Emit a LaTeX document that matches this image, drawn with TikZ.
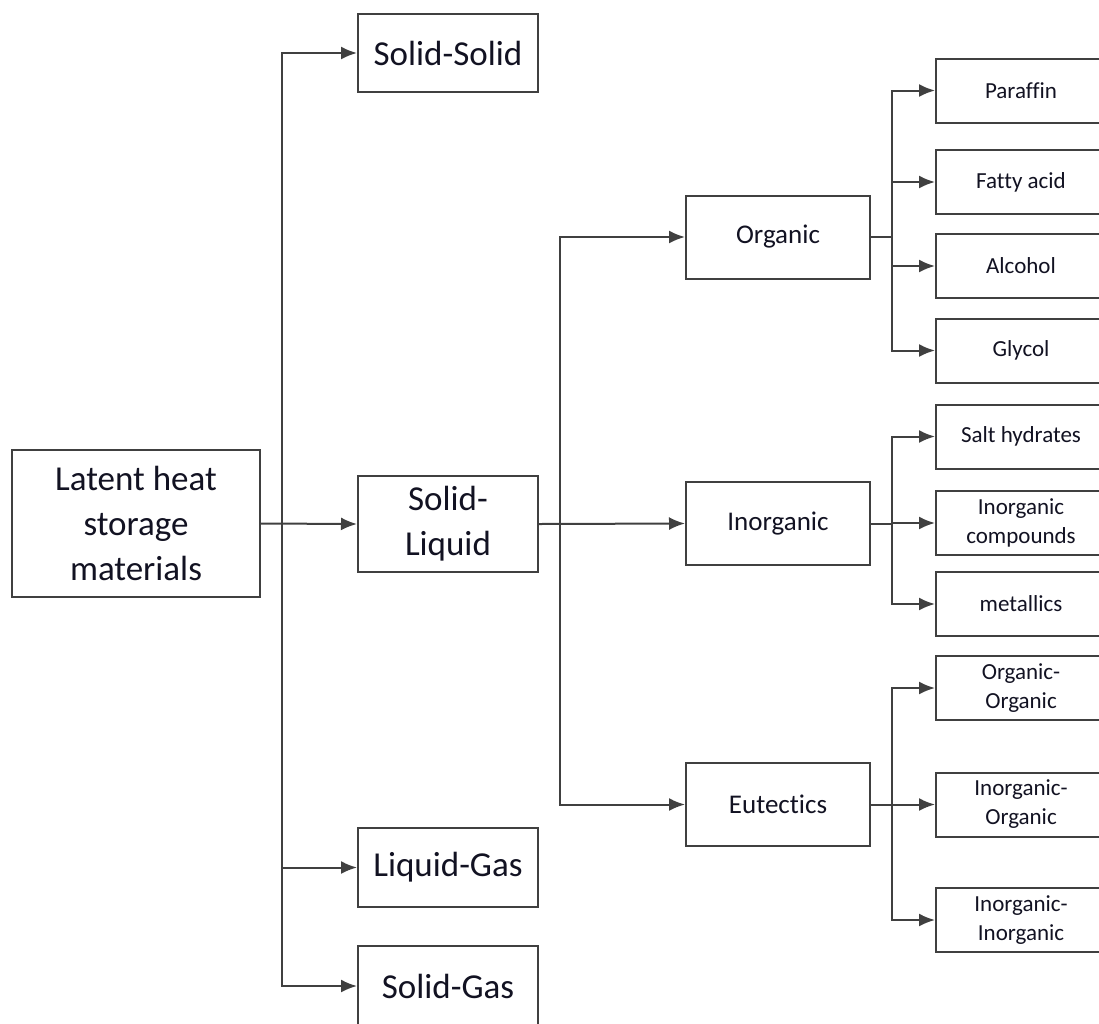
\documentclass[tikz,border=0pt]{standalone}
\usepackage{fontspec}
\setmainfont{Carlito}[Ligatures={NoCommon,NoRare}]
\usepackage{xcolor}
\usetikzlibrary{arrows.meta}
\definecolor{lineg}{RGB}{64,64,64}
\definecolor{inkd}{RGB}{18,18,34}

\begin{document}
\begin{tikzpicture}[x=1pt, y=-1pt,
  box/.style={draw=lineg, line width=2pt, fill=white, text=inkd, align=center, inner sep=2pt},
  bigbox/.style={box, font=\fontsize{35}{45}\selectfont},
  midbox/.style={box, font=\fontsize{27}{34}\selectfont, minimum width=184pt, minimum height=83pt},
  leafbox/.style={box, font=\fontsize{23}{29}\selectfont, minimum width=170pt, minimum height=64pt},
  arr/.style={draw=lineg, line width=2pt, -{Latex[length=16pt,width=13pt]}},
  link/.style={draw=lineg, line width=2pt}]
  \useasboundingbox (0,0) rectangle (1099,1023);
  \clip (0,0) rectangle (1099,1023);

  % Root and phase change types
  \node[bigbox, minimum width=248pt, minimum height=147pt] (lhs) at (136,523.5) {Latent heat\\storage\\materials};
  \node[bigbox, minimum width=180pt, minimum height=78pt] (ss) at (448,53) {Solid-Solid};
  \node[bigbox, minimum width=180pt, minimum height=96pt] (sl) at (448,524) {Solid-\\Liquid};
  \node[bigbox, minimum width=180pt, minimum height=79pt] (lg) at (448,867.5) {Liquid-Gas};
  \node[bigbox, minimum width=180pt, minimum height=80pt] (sg) at (448,986) {Solid-Gas};

  % Solid-liquid classes
  \node[midbox] (org) at (778,237) {Organic};
  \node[midbox] (inorg) at (778,523.5) {Inorganic};
  \node[midbox] (eut) at (778,804.5) {Eutectics};

  % Leaves
  \node[leafbox] (par) at (1021,90.5) {Paraffin};
  \node[leafbox] (fat) at (1021,182) {Fatty acid};
  \node[leafbox] (alc) at (1021,266) {Alcohol};
  \node[leafbox] (gly) at (1021,350.5) {Glycol};
  \node[leafbox] (salt) at (1021,436.5) {Salt hydrates};
  \node[leafbox] (inc) at (1021,523) {Inorganic\\compounds};
  \node[leafbox] (met) at (1021,604) {metallics};
  \node[leafbox] (oo) at (1021,688) {Organic-\\Organic};
  \node[leafbox] (io) at (1021,804.5) {Inorganic-\\Organic};
  \node[leafbox] (ii) at (1021,920) {Inorganic-\\Inorganic};

  % Junction points
  \coordinate (j1) at (282,523.5);
  \coordinate (j2) at (560,524);
  \coordinate (j3) at (892,237);
  \coordinate (j4) at (892,523.5);
  \coordinate (j5) at (892,804.5);

  % Connectors
  \draw[arr] (lhs.east) -- (sl.west);
  \draw[arr] (j1) |- (ss.west);
  \draw[arr] (j1) |- (lg.west);
  \draw[arr] (j1) |- (sg.west);

  \draw[arr] (sl.east) -- (inorg.west);
  \draw[arr] (j2) |- (org.west);
  \draw[arr] (j2) |- (eut.west);

  \draw[link] (org.east) -- (j3);
  \foreach \n in {par,fat,alc,gly} \draw[arr] (j3) |- (\n.west);
  \draw[link] (inorg.east) -- (j4);
  \foreach \n in {salt,inc,met} \draw[arr] (j4) |- (\n.west);
  \draw[link] (eut.east) -- (j5);
  \foreach \n in {oo,io,ii} \draw[arr] (j5) |- (\n.west);
\end{tikzpicture}
\end{document}
